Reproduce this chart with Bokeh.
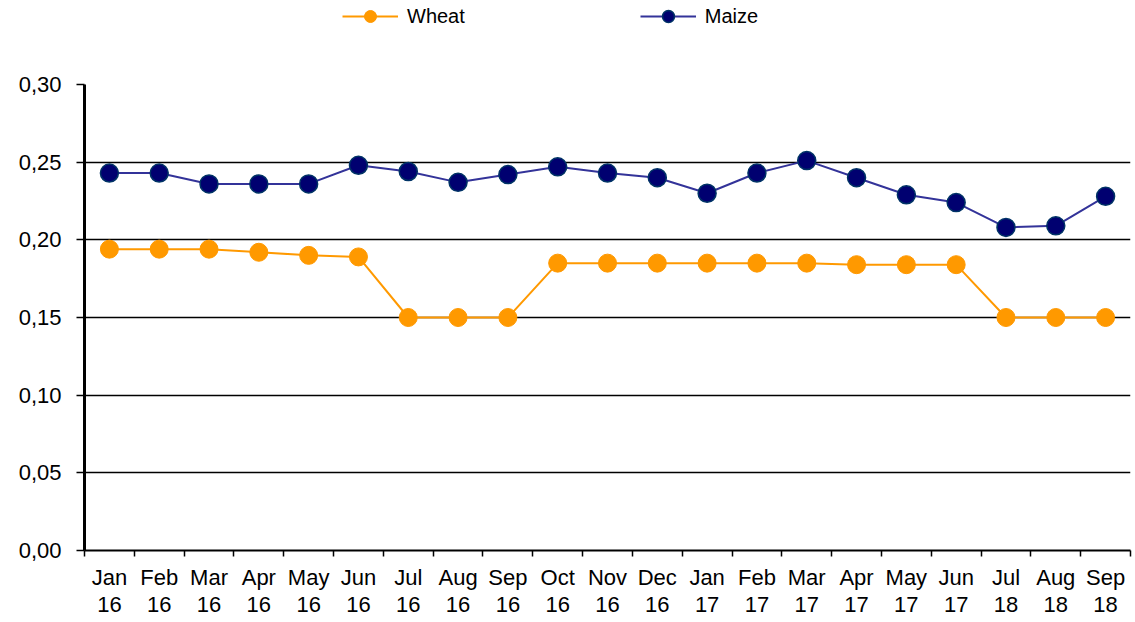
from bokeh.plotting import figure
from bokeh.layouts import column
from bokeh.models import FixedTicker, CustomJSTickFormatter, Legend, LegendItem, Range1d
from bokeh.embed import file_html
from bokeh.resources import INLINE

months = ["Jan\n16", "Feb\n16", "Mar\n16", "Apr\n16", "May\n16", "Jun\n16", "Jul\n16",
          "Aug\n16", "Sep\n16", "Oct\n16", "Nov\n16", "Dec\n16", "Jan\n17", "Feb\n17",
          "Mar\n17", "Apr\n17", "May\n17", "Jun\n17", "Jul\n18", "Aug\n18", "Sep\n18"]
wheat = [0.194, 0.194, 0.194, 0.192, 0.190, 0.189, 0.150, 0.150, 0.150, 0.185, 0.185,
         0.185, 0.185, 0.185, 0.185, 0.184, 0.184, 0.184, 0.150, 0.150, 0.150]
maize = [0.243, 0.243, 0.236, 0.236, 0.236, 0.248, 0.244, 0.237, 0.242, 0.247, 0.243,
         0.240, 0.230, 0.243, 0.251, 0.240, 0.229, 0.224, 0.208, 0.209, 0.228]
y_ticks = [0.0, 0.05, 0.10, 0.15, 0.20, 0.25, 0.30]

x = list(range(len(months)))
FONT = "Liberation Sans"
WHEAT_C = "#FF9900"
MAIZE_LINE = "#333399"
MAIZE_FILL = "#000070"
MAIZE_EDGE = "#003366"
NAN = [float("nan")]

LEG_H = 40
p = figure(width=1133, height=620 - LEG_H, output_backend="svg", toolbar_location=None,
           x_range=Range1d(-0.5, len(months) - 0.5), y_range=Range1d(0, 0.30),
           min_border_left=84, min_border_right=3, min_border_top=84 - LEG_H,
           min_border_bottom=68)
p.outline_line_color = None
p.background_fill_color = "white"
p.border_fill_color = "white"

# axes
p.xaxis.ticker = FixedTicker(ticks=x, minor_ticks=[i - 0.5 for i in range(len(months) + 1)])
p.xaxis.major_label_overrides = {i: m for i, m in enumerate(months)}
p.xaxis.major_tick_out = 0
p.xaxis.major_tick_in = 0
p.xaxis.minor_tick_out = 6
p.xaxis.minor_tick_in = 0
p.xaxis.minor_tick_line_color = "black"
p.xaxis.minor_tick_line_width = 1.5
p.xaxis.axis_line_width = 2
p.xaxis.axis_line_color = "black"
p.xaxis.major_label_text_font = FONT
p.xaxis.major_label_text_font_size = "22px"
p.xaxis.major_label_text_color = "black"
p.xaxis.major_label_standoff = 8
p.xaxis.major_label_text_line_height = 1.1

p.yaxis.ticker = FixedTicker(ticks=y_ticks)
p.yaxis.formatter = CustomJSTickFormatter(code="return tick.toFixed(2).replace('.', ',');")
p.yaxis.major_tick_out = 8
p.yaxis.major_tick_in = 0
p.yaxis.minor_tick_out = 0
p.yaxis.minor_tick_in = 0
p.yaxis.major_tick_line_width = 1.5
p.yaxis.major_tick_line_color = "black"
p.yaxis.axis_line_width = 3
p.yaxis.axis_line_color = "black"
p.yaxis.major_label_text_font = FONT
p.yaxis.major_label_text_font_size = "22px"
p.yaxis.major_label_text_color = "black"
p.yaxis.major_label_standoff = 15

p.xgrid.grid_line_color = None
p.ygrid.ticker = FixedTicker(ticks=y_ticks[1:])
p.ygrid.grid_line_color = "black"
p.ygrid.grid_line_width = 1.5

p.line(x, wheat, line_color=WHEAT_C, line_width=2)
p.scatter(x, wheat, size=18, fill_color=WHEAT_C, line_color=WHEAT_C)
p.line(x, maize, line_color=MAIZE_LINE, line_width=2)
p.scatter(x, maize, size=18, fill_color=MAIZE_FILL, line_color=MAIZE_EDGE, line_width=1.5)

# legend strip on top (legend-only renderers with no visible data)
lf = figure(width=1133, height=LEG_H, output_backend="svg", toolbar_location=None,
            x_axis_location=None, y_axis_location=None,
            min_border_left=0, min_border_right=0, min_border_top=0, min_border_bottom=0,
            x_range=Range1d(0, 1), y_range=Range1d(0, 1))
lf.outline_line_color = None
lf.xgrid.visible = False
lf.ygrid.visible = False
lwl = lf.line(NAN, NAN, line_color=WHEAT_C, line_width=2)
lws = lf.scatter(NAN, NAN, size=15, fill_color=WHEAT_C, line_color=WHEAT_C)
lml = lf.line(NAN, NAN, line_color=MAIZE_LINE, line_width=2)
lms = lf.scatter(NAN, NAN, size=15, fill_color=MAIZE_FILL, line_color=MAIZE_EDGE, line_width=1.5)
legend = Legend(items=[LegendItem(label="Wheat", renderers=[lwl, lws]),
                       LegendItem(label="Maize", renderers=[lml, lms])],
                orientation="horizontal", location=(258, 9),
                border_line_color=None, background_fill_alpha=0,
                label_text_font=FONT, label_text_font_size="20px", label_text_color="black",
                glyph_width=56, glyph_height=30, label_standoff=9, spacing=175,
                padding=4, margin=0)
lf.add_layout(legend, "center")

layout = column(lf, p, spacing=0)
open("out.html", "w").write(file_html(layout, INLINE))
